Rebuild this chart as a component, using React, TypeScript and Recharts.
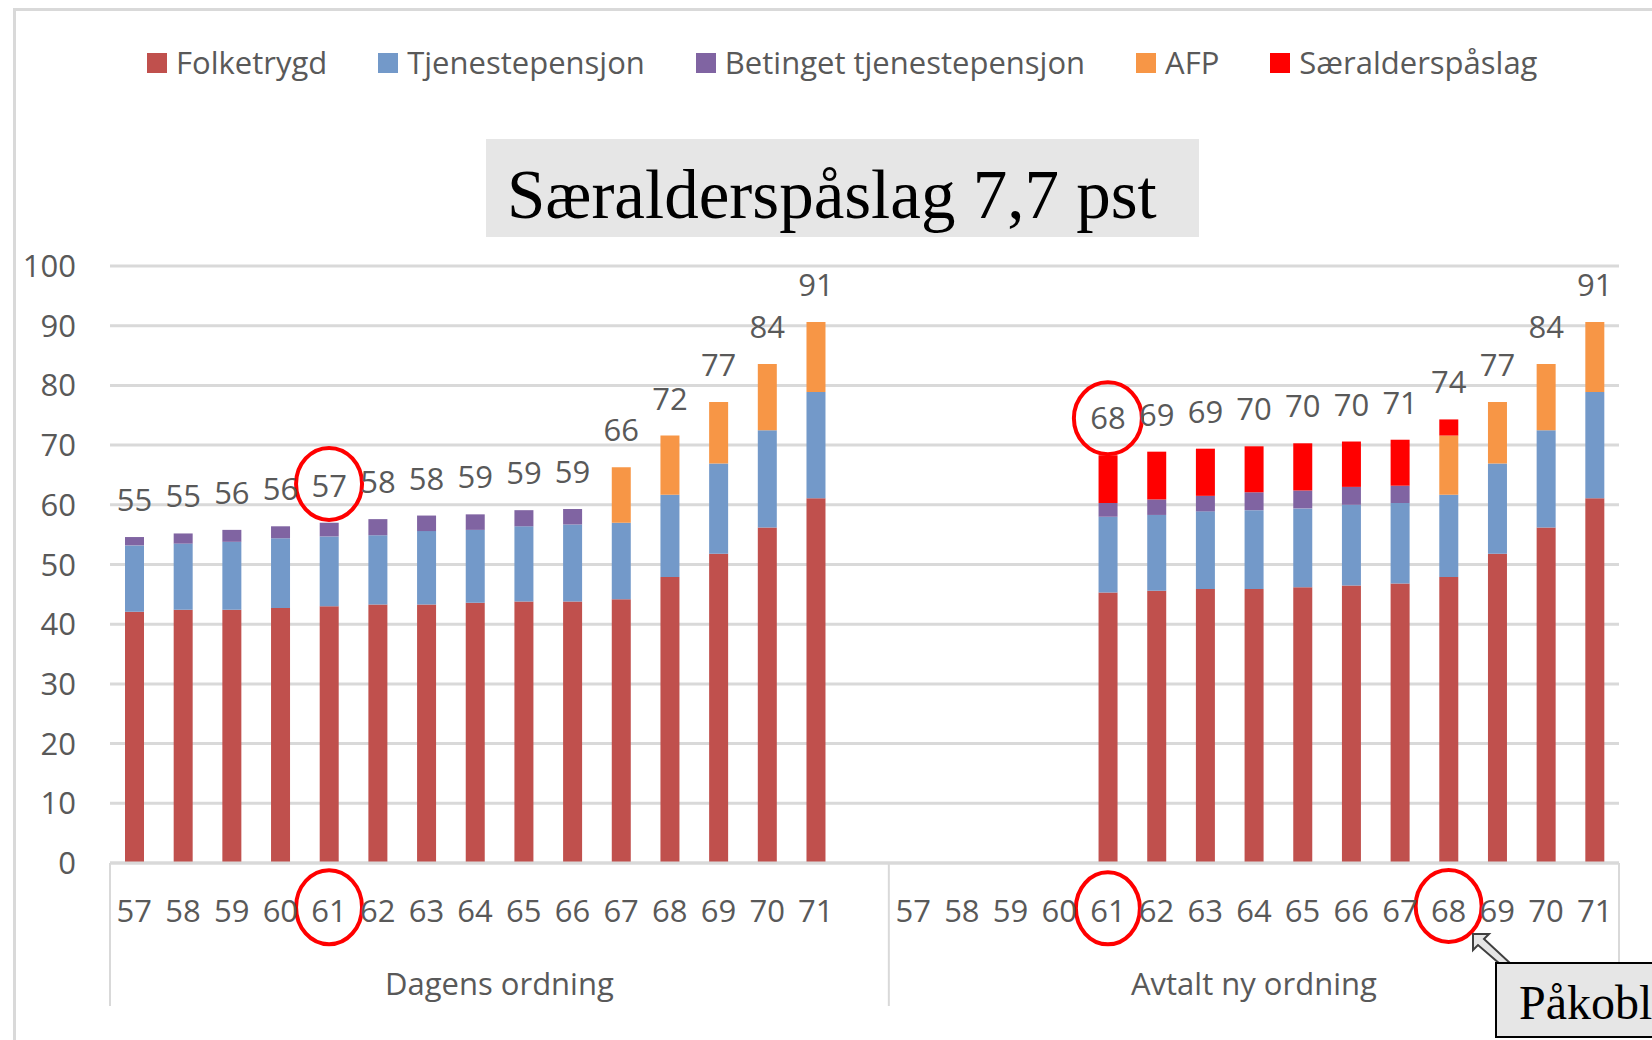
import { BarChart, Bar, XAxis, YAxis, CartesianGrid, LabelList, ReferenceDot } from 'recharts';

if (typeof document !== 'undefined') document.body.style.margin = '0';

const WIDTH = 1652;
const HEIGHT = 1040;
const MARGIN = { top: 266, right: 33, bottom: 37, left: 20 };
const Y_AXIS_W = 90;
const X_AXIS_H = 140;
const FONT = '"Open Sans", sans-serif';
const GREY = '#595959';
const LINE = '#D9D9D9';

const AGES = ['57', '58', '59', '60', '61', '62', '63', '64', '65', '66', '67', '68', '69', '70', '71'];
const GROUPS = ['Dagens ordning', 'Avtalt ny ordning'];
const Y_TICKS = [0, 10, 20, 30, 40, 50, 60, 70, 80, 90, 100];

// Dagens ordning
const dagensFolketrygd = [42.1, 42.4, 42.4, 42.7, 43.0, 43.3, 43.3, 43.6, 43.8, 43.8, 44.2, 47.9, 51.8, 56.2, 61.1];
const dagensTjeneste = [11.1, 11.1, 11.4, 11.7, 11.7, 11.6, 12.3, 12.2, 12.6, 12.9, 12.8, 13.8, 15.1, 16.3, 17.8];
const dagensBetinget = [1.4, 1.7, 2.0, 2.0, 2.3, 2.7, 2.6, 2.6, 2.7, 2.6, 0, 0, 0, 0, 0];
const dagensAfp = [0, 0, 0, 0, 0, 0, 0, 0, 0, 0, 9.3, 9.9, 10.3, 11.1, 11.7];
const dagensSaer = [0, 0, 0, 0, 0, 0, 0, 0, 0, 0, 0, 0, 0, 0, 0];
const dagensLabels = [55, 55, 56, 56, 57, 58, 58, 59, 59, 59, 66, 72, 77, 84, 91];

// Avtalt ny ordning
const nyFolketrygd = [null, null, null, null, 45.3, 45.6, 45.9, 45.9, 46.2, 46.5, 46.8, 47.9, 51.8, 56.2, 61.1];
const nyTjeneste = [null, null, null, null, 12.7, 12.7, 13.0, 13.2, 13.2, 13.5, 13.5, 13.8, 15.1, 16.3, 17.8];
const nyBetinget = [null, null, null, null, 2.3, 2.6, 2.6, 3.0, 3.0, 3.0, 2.9, 0, 0, 0, 0];
const nyAfp = [null, null, null, null, 0, 0, 0, 0, 0, 0, 0, 9.9, 10.3, 11.1, 11.7];
const nySaer = [null, null, null, null, 8.0, 8.0, 7.9, 7.7, 7.9, 7.6, 7.7, 2.7, 0, 0, 0];
const nyLabels = [null, null, null, null, 68, 69, 69, 70, 70, 70, 71, 74, 77, 84, 91];

const SERIES = [
  { key: 'folketrygd', name: 'Folketrygd', color: '#C0504D' },
  { key: 'tjeneste', name: 'Tjenestepensjon', color: '#7399C9' },
  { key: 'betinget', name: 'Betinget tjenestepensjon', color: '#8064A2' },
  { key: 'afp', name: 'AFP', color: '#F79646' },
  { key: 'saer', name: 'Særalderspåslag', color: '#FF0000' },
];

type Row = {
  key: string;
  age: string;
  group: number;
  folketrygd?: number | null;
  tjeneste?: number | null;
  betinget?: number | null;
  afp?: number | null;
  saer?: number | null;
  label?: number | null;
};

const rows: Row[] = [
  ...AGES.map((age, i) => ({
    key: 'D' + age,
    age,
    group: 0,
    folketrygd: dagensFolketrygd[i],
    tjeneste: dagensTjeneste[i],
    betinget: dagensBetinget[i],
    afp: dagensAfp[i],
    saer: dagensSaer[i],
    label: dagensLabels[i],
  })),
  // empty slot closing the first group
  { key: 'Dx', age: '', group: 0 },
  ...AGES.map((age, i) => ({
    key: 'A' + age,
    age,
    group: 1,
    folketrygd: nyFolketrygd[i],
    tjeneste: nyTjeneste[i],
    betinget: nyBetinget[i],
    afp: nyAfp[i],
    saer: nySaer[i],
    label: nyLabels[i],
  })),
];

// the total label goes on the highest non-empty segment of each bar
const topKey = (row: any) => {
  let top = null;
  SERIES.forEach((s) => {
    if (row && row[s.key]) top = s.key;
  });
  return top;
};

const PLOT_W = WIDTH - MARGIN.left - MARGIN.right - Y_AXIS_W;
const BAND = PLOT_W / rows.length;

// first index and centre of each group on the category axis
const groupInfo = GROUPS.map((name, g) => {
  const first = rows.findIndex((r) => r.group === g);
  const count = rows.filter((r) => r.group === g).length;
  const centre = first + (count - 1) / 2;
  return { name, first, at: Math.floor(centre), dx: (centre - Math.floor(centre)) * BAND };
});

function AgeTick(props: any) {
  const { x, y, payload } = props;
  const idx = payload.index;
  const row = rows[idx];
  const starts = groupInfo.find((g) => g.first === idx);
  const labelled = groupInfo.find((g) => g.at === idx);
  return (
    <g>
      <text x={x} y={y + 59} textAnchor="middle" fill={GREY} fontSize={31} fontFamily={FONT}>
        {row.age}
      </text>
      {starts && (
        <line x1={x - BAND / 2} x2={x - BAND / 2} y1={y} y2={y + 143} stroke={LINE} strokeWidth={2} />
      )}
      {idx === rows.length - 1 && (
        <line x1={x + BAND / 2} x2={x + BAND / 2} y1={y} y2={y + 143} stroke={LINE} strokeWidth={2} />
      )}
      {labelled && (
        <text x={x + labelled.dx} y={y + 132} textAnchor="middle" fill={GREY} fontSize={31} fontFamily={FONT}>
          {labelled.name}
        </text>
      )}
    </g>
  );
}

const ring = (rx: number, ry: number) => (p: any) => (
  <ellipse cx={p.cx} cy={p.cy} rx={rx} ry={ry} fill="none" stroke="#FF0000" strokeWidth={4} />
);

export default function App() {
  return (
    <div style={{ position: 'relative', width: WIDTH, height: HEIGHT, background: '#fff', overflow: 'hidden' }}>
      {/* chart area frame */}
      <div
        style={{
          position: 'absolute',
          left: 13,
          top: 8,
          width: WIDTH,
          height: HEIGHT,
          border: `3px solid ${LINE}`,
        }}
      />

      {/* legend */}
      <div
        style={{
          position: 'absolute',
          left: 147,
          top: 47,
          display: 'flex',
          alignItems: 'center',
          gap: 51,
          fontFamily: FONT,
          fontSize: 31,
          lineHeight: 1,
          color: GREY,
          whiteSpace: 'nowrap',
        }}
      >
        {SERIES.map((s) => (
          <div key={s.key} style={{ display: 'flex', alignItems: 'center', gap: 9 }}>
            <span style={{ width: 20, height: 20, background: s.color, display: 'inline-block' }} />
            <span>{s.name}</span>
          </div>
        ))}
      </div>

      {/* title box */}
      <div
        style={{
          position: 'absolute',
          left: 486,
          top: 139,
          width: 713,
          height: 98,
          background: '#E6E6E6',
        }}
      >
        <div
          style={{
            position: 'absolute',
            left: 21,
            top: 7,
            fontFamily: '"Liberation Serif", "Times New Roman", serif',
            fontSize: 69,
            lineHeight: '98px',
            color: '#000',
            whiteSpace: 'nowrap',
          }}
        >
          Særalderspåslag 7,7 pst
        </div>
      </div>

      <div style={{ position: 'absolute', left: 0, top: 0 }}>
        <BarChart width={WIDTH} height={HEIGHT} data={rows} margin={MARGIN} barSize={19}>
          <CartesianGrid horizontal vertical={false} stroke={LINE} strokeWidth={3} />
          <YAxis
            width={Y_AXIS_W}
            domain={[0, 100]}
            ticks={Y_TICKS}
            axisLine={false}
            tickLine={false}
            tickSize={0}
            tickMargin={34}
            tick={{ fill: GREY, fontSize: 31, fontFamily: FONT }}
          />
          <XAxis
            dataKey="key"
            height={X_AXIS_H}
            interval={0}
            tickLine={false}
            tickSize={0}
            tickMargin={0}
            axisLine={{ stroke: LINE, strokeWidth: 3 }}
            tick={(p: any) => <AgeTick {...p} />}
          />
          {SERIES.map((s) => (
            <Bar key={s.key} dataKey={s.key} stackId="a" fill={s.color} isAnimationActive={false}>
              <LabelList
                dataKey={(row: any) => (topKey(row) === s.key ? row.label : null)}
                position="top"
                offset={26}
                fill={GREY}
                fontSize={31}
                fontFamily={FONT}
              />
            </Bar>
          ))}
          <ReferenceDot x="D61" y={63.5} r={30} ifOverflow="visible" shape={ring(33, 36)} />
          <ReferenceDot x="A61" y={74.5} r={30} ifOverflow="visible" shape={ring(34, 36)} />
          <ReferenceDot x="D61" y={-7.4} r={30} ifOverflow="visible" shape={ring(33, 37)} />
          <ReferenceDot x="A61" y={-7.6} r={30} ifOverflow="visible" shape={ring(32, 36)} />
          <ReferenceDot x="A68" y={-7.2} r={30} ifOverflow="visible" shape={ring(33, 36)} />
        </BarChart>
      </div>

      {/* callout pointing at age 68, cut by the right edge as in the source */}
      <svg width={WIDTH} height={HEIGHT} style={{ position: 'absolute', left: 0, top: 0, pointerEvents: 'none' }}>
        <polygon
          points="1473,934 1489,934 1484,939 1511,964 1500,964 1478,945 1473,950"
          fill="#E6E6E6"
          stroke="#404040"
          strokeWidth={2}
        />
        <rect x={1496} y={963} width={220} height={74} fill="#E6E6E6" stroke="#000" strokeWidth={2} />
        <text x={1519} y={1019} fontFamily='"Liberation Serif", "Times New Roman", serif' fontSize={48} fill="#000">
          Påkobl
        </text>
      </svg>
    </div>
  );
}
